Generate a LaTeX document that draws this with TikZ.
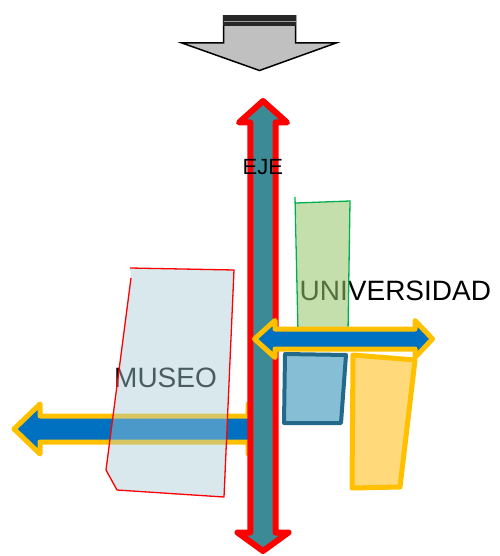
\documentclass[tikz,border=0pt]{standalone}
\usepackage{fontspec}
\setmainfont{Liberation Sans}
\definecolor{arrblue}{RGB}{0,112,192}
\definecolor{arryellow}{RGB}{255,192,0}
\definecolor{ejeteal}{RGB}{59,138,150}
\definecolor{museofill}{RGB}{168,205,214}
\definecolor{univfill}{RGB}{152,198,107}
\definecolor{univline}{RGB}{0,176,80}
\definecolor{bluebfill}{RGB}{134,191,213}
\definecolor{bluebline}{RGB}{35,105,138}
\definecolor{yelbfill}{RGB}{255,217,122}
\definecolor{grayfill}{RGB}{192,192,192}
\begin{document}
\begin{tikzpicture}[x=1pt,y=-1pt,
  label/.style={inner sep=0pt, anchor=base west, font=\fontsize{28pt}{30pt}\selectfont},
  flowarrow/.style={fill=arrblue, draw=arryellow, line width=5pt, line join=round},
  ejearrow/.style={fill=ejeteal, draw=red, line width=6pt, line join=round}]
\useasboundingbox (0,0) rectangle (499,556);
% texts under translucent shapes
\node[label] (univ) at (299.5,300) {UNIVERSIDAD};
\node[label] (museo) at (114,387) {MUSEO};
% left double arrow (right head hidden under the axis)
\path[flowarrow] (14,429) -- (40,404) -- (40,416) -- (248,416) -- (248,404) -- (274,429)
  -- (248,454) -- (248,442) -- (40,442) -- (40,454) -- cycle;
% museum
\fill[museofill, fill opacity=0.45] (130,268) -- (234,270) -- (224,497) -- (117,490) -- (106,470) -- (131,278) -- cycle;
\draw[red, line width=1.3pt, line join=round] (131,278) -- (106,470) -- (117,490) -- (224,497) -- (234,270) -- (130,268);
% university block
\fill[univfill, fill opacity=0.56] (296,203) -- (350,201) -- (348,332) -- (298,332) -- cycle;
\draw[univline, line width=1.3pt] (295,197) -- (298,332) -- (348,332) -- (350,201) -- (296,203);
% blue building
\path[fill=bluebfill, draw=bluebline, line width=4pt, line join=round] (285,354) -- (346,355) -- (341,423) -- (284,423) -- cycle;
% yellow building
\path[fill=yelbfill, draw=arryellow, line width=5pt, line join=round] (353,355) -- (415,360) -- (400,487) -- (352,488) -- cycle;
% vertical axis arrow
\path[ejearrow] (263,101) -- (287,122.5) -- (275.5,122.5) -- (275.5,532.5) -- (288.5,532.5) -- (263,551)
  -- (237.5,532.5) -- (250.3,532.5) -- (250.3,122.5) -- (239,122.5) -- cycle;
% right double arrow
\path[flowarrow] (254.5,339) -- (275,320.5) -- (275,329) -- (415,329) -- (415,320.5) -- (432.5,339)
  -- (415,357.5) -- (415,349) -- (275,349) -- (275,357.5) -- cycle;
\node[inner sep=0pt, anchor=base west, font=\fontsize{22pt}{24pt}\selectfont] (eje) at (242.5,175) {EJE};
% top gray arrow
\path[fill=grayfill, draw=black, line width=1.5pt, line join=miter] (223.5,16) -- (295.5,16) -- (295.5,43) -- (336,43)
  -- (259.5,70.5) -- (182,43) -- (223.5,43) -- cycle;
\fill[black!85] (222.7,15) rectangle (296.3,26);
\draw[gray!80, line width=0.8pt] (223.5,21.5) -- (295.5,21.5);
\end{tikzpicture}
\end{document}
